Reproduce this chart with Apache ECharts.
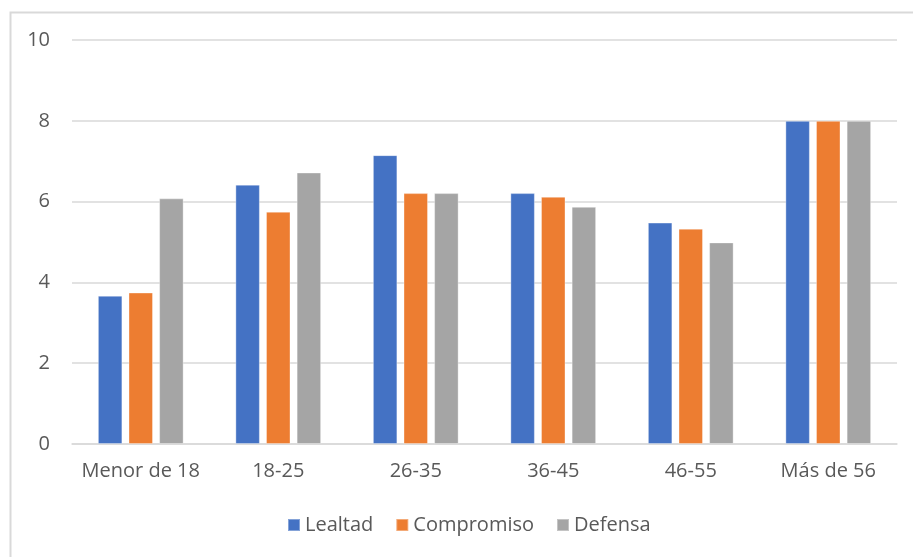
<!DOCTYPE html>
<html><head><meta charset="utf-8">
<script src="https://cdn.jsdelivr.net/npm/echarts@6/dist/echarts.min.js"></script>
<style>html,body{margin:0;padding:0;background:#fff}#c{width:913px;height:557px}</style>
</head><body><div id="c"></div>
<script>
const categories = ["Menor de 18","18-25","26-35","36-45","46-55","Más de 56"];
const lealtad = [3.67, 6.42, 7.15, 6.21, 5.48, 8];
const compromiso = [3.75, 5.75, 6.21, 6.12, 5.33, 8];
const defensa = [6.08, 6.72, 6.21, 5.87, 4.99, 8];
const yTicks = [0, 2, 4, 6, 8, 10];

const font = "Open Sans";
const chart = echarts.init(document.getElementById('c'), null, {renderer:'canvas'});
const mk = (name, data, color) => ({
  name, type:'bar', data, barWidth:24.5, barGap:'25%',
  itemStyle:{color, borderColor:'rgba(255,255,255,0.35)', borderWidth:1},
  emphasis:{disabled:true}, animation:false
});
chart.setOption({
  animation:false,
  textStyle:{fontFamily:font},
  graphic:[{type:'rect', shape:{x:10.5,y:12.5,width:1000,height:1000},
    style:{fill:'none', stroke:'#d9d9d9', lineWidth:2}, silent:true, z:-1}],
  grid:{left:72, right:16, top:40, bottom:113, containLabel:false},
  legend:{bottom:17, left:282, itemWidth:12, itemHeight:12, itemGap:22,
    icon:'rect', textStyle:{color:'#595959', fontSize:20, fontFamily:font}},
  xAxis:{type:'category', data:categories,
    axisLine:{show:true, lineStyle:{color:'#d9d9d9', width:1.5}},
    axisTick:{show:false},
    axisLabel:{color:'#595959', fontSize:20, margin:17, interval:0, fontFamily:font}},
  yAxis:{type:'value', min:yTicks[0], max:yTicks[yTicks.length-1], interval:2,
    axisLine:{show:false}, axisTick:{show:false},
    axisLabel:{color:'#595959', fontSize:20, margin:22, fontFamily:font},
    splitLine:{lineStyle:{color:'#d9d9d9', width:1.5}}},
  series:[mk('Lealtad', lealtad, '#4472C4'), mk('Compromiso', compromiso, '#ED7D31'), mk('Defensa', defensa, '#A5A5A5')]
});
</script></body></html>
